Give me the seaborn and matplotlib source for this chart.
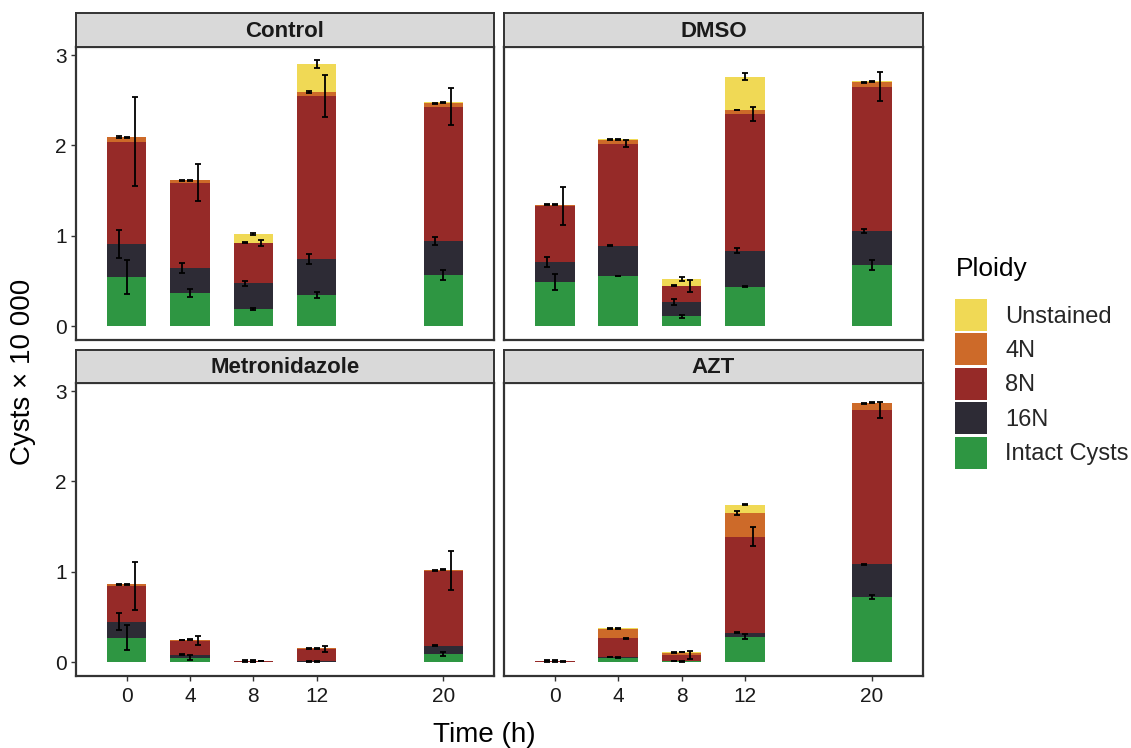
import numpy as np
import pandas as pd
import seaborn as sns
import matplotlib
matplotlib.use("Agg")
import matplotlib.pyplot as plt
from matplotlib.patches import Patch

# ---------------- data ----------------
times = [0, 4, 8, 12, 20]
treatments = ["Control", "DMSO", "Metronidazole", "AZT"]
layers = ["Intact Cysts", "16N", "8N", "4N", "Unstained"]  # stacking order, bottom -> top
legend_order = ["Unstained", "4N", "8N", "16N", "Intact Cysts"]

# segment heights (cysts x 10 000)
control_intact = [0.539, 0.362, 0.188, 0.343, 0.565]
control_16n = [0.369, 0.277, 0.285, 0.396, 0.376]
control_8n = [1.133, 0.948, 0.443, 1.811, 1.488]
control_4n = [0.049, 0.026, 0.007, 0.045, 0.037]
control_unst = [0.002, 0.002, 0.096, 0.306, 0.011]

dmso_intact = [0.484, 0.554, 0.107, 0.435, 0.676]
dmso_16n = [0.228, 0.335, 0.159, 0.396, 0.376]
dmso_8n = [0.620, 1.130, 0.177, 1.517, 1.598]
dmso_4n = [0.011, 0.044, 0.003, 0.044, 0.049]
dmso_unst = [0.002, 0.002, 0.078, 0.369, 0.011]

metro_intact = [0.270, 0.048, 0.002, 0.005, 0.093]
metro_16n = [0.178, 0.033, 0.002, 0.002, 0.085]
metro_8n = [0.396, 0.152, 0.007, 0.134, 0.832]
metro_4n = [0.015, 0.011, 0.002, 0.011, 0.008]
metro_unst = [0.001, 0.001, 0.001, 0.001, 0.002]

azt_intact = [0.003, 0.048, 0.008, 0.282, 0.722]
azt_16n = [0.002, 0.007, 0.003, 0.044, 0.359]
azt_8n = [0.003, 0.208, 0.067, 1.061, 1.705]
azt_4n = [0.006, 0.107, 0.026, 0.260, 0.078]
azt_unst = [0.002, 0.004, 0.007, 0.096, 0.007]

# error (half-widths)
control_intact_err = [0.19, 0.045, 0.015, 0.035, 0.06]
control_16n_err = [0.155, 0.055, 0.025, 0.055, 0.048]
control_8n_err = [0.49, 0.205, 0.035, 0.232, 0.205]
control_4n_err = [0.01, 0.005, 0.005, 0.01, 0.005]
control_unst_err = [0.005, 0.005, 0.015, 0.042, 0.005]

dmso_intact_err = [0.09, 0.005, 0.02, 0.005, 0.055]
dmso_16n_err = [0.055, 0.005, 0.037, 0.028, 0.024]
dmso_8n_err = [0.21, 0.037, 0.065, 0.075, 0.157]
dmso_4n_err = [0.005, 0.005, 0.005, 0.005, 0.005]
dmso_unst_err = [0.005, 0.005, 0.022, 0.039, 0.005]

metro_intact_err = [0.137, 0.025, 0.003, 0.005, 0.022]
metro_16n_err = [0.097, 0.005, 0.003, 0.005, 0.005]
metro_8n_err = [0.265, 0.05, 0.005, 0.035, 0.215]
metro_4n_err = [0.005, 0.005, 0.005, 0.005, 0.005]
metro_unst_err = [0.005, 0.005, 0.005, 0.005, 0.005]

azt_intact_err = [0.003, 0.005, 0.005, 0.028, 0.024]
azt_16n_err = [0.003, 0.005, 0.005, 0.005, 0.005]
azt_8n_err = [0.003, 0.005, 0.04, 0.107, 0.089]
azt_4n_err = [0.005, 0.01, 0.005, 0.022, 0.005]
azt_unst_err = [0.003, 0.005, 0.005, 0.005, 0.005]

values = {
    "Control": [control_intact, control_16n, control_8n, control_4n, control_unst],
    "DMSO": [dmso_intact, dmso_16n, dmso_8n, dmso_4n, dmso_unst],
    "Metronidazole": [metro_intact, metro_16n, metro_8n, metro_4n, metro_unst],
    "AZT": [azt_intact, azt_16n, azt_8n, azt_4n, azt_unst],
}
errors = {
    "Control": [control_intact_err, control_16n_err, control_8n_err, control_4n_err, control_unst_err],
    "DMSO": [dmso_intact_err, dmso_16n_err, dmso_8n_err, dmso_4n_err, dmso_unst_err],
    "Metronidazole": [metro_intact_err, metro_16n_err, metro_8n_err, metro_4n_err, metro_unst_err],
    "AZT": [azt_intact_err, azt_16n_err, azt_8n_err, azt_4n_err, azt_unst_err],
}

colors = {
    "Unstained": "#F0D955",
    "4N": "#CD6A29",
    "8N": "#962A28",
    "16N": "#2D2B35",
    "Intact Cysts": "#2E9642",
}
err_offset = {"Intact Cysts": 0.0, "16N": -0.5, "8N": 0.5, "4N": -0.5, "Unstained": 0.0}

rows = []
for tr in treatments:
    cum = np.zeros(len(times))
    for li, lay in enumerate(layers):
        seg = np.array(values[tr][li])
        cum = cum + seg
        for ti, t in enumerate(times):
            rows.append(dict(treatment=tr, time=t, layer=lay, value=seg[ti],
                             cum=cum[ti], err=errors[tr][li][ti]))
df = pd.DataFrame(rows)

# ---------------- figure ----------------
sns.set_theme(style="white")
plt.rcParams["font.family"] = ["Liberation Sans", "DejaVu Sans"]

W, H = 1131, 748
fig = plt.figure(figsize=(W / 100, H / 100), dpi=100)

def fx(px):
    return px / W

def fy(py):
    return 1 - py / H

panel_x = [(76, 494), (504, 922.7)]
panel_y = [(47, 340), (383, 676)]
strip_y = [(13, 47), (350, 383)]
edge = "#333333"

for idx, tr in enumerate(treatments):
    r, c = divmod(idx, 2)
    x0, x1 = panel_x[c]
    y0, y1 = panel_y[r]
    ax = fig.add_axes([fx(x0), fy(y1), fx(x1 - x0), (y1 - y0) / H])
    sy0, sy1 = strip_y[r]
    sax = fig.add_axes([fx(x0), fy(sy1), fx(x1 - x0), (sy1 - sy0) / H])

    sub = df[df.treatment == tr]
    # draw cumulative bars, tallest (top layer) first
    for lay in reversed(layers):
        d = sub[sub.layer == lay]
        sns.barplot(data=d, x="time", y="cum", native_scale=True, color=colors[lay],
                    saturation=1, width=0.625, errorbar=None, linewidth=0, ax=ax)
    for lay in layers:
        d = sub[sub.layer == lay]
        ax.errorbar(d["time"] + err_offset[lay], d["cum"], yerr=d["err"], fmt="none",
                    ecolor="black", elinewidth=1.3, capsize=2.0, capthick=1.3, zorder=5)

    ax.set_xlim(-3.2, 23.2)
    ax.set_ylim(-0.155, 3.089)
    ax.set_xticks(times)
    ax.set_yticks([0, 1, 2, 3])
    ax.set_xlabel("")
    ax.set_ylabel("")
    ax.set_facecolor("white")
    for s in ax.spines.values():
        s.set_color(edge)
        s.set_linewidth(1.6)
    ax.tick_params(axis="both", length=3.5, width=1.0, color=edge, labelsize=15,
                   labelcolor="#1a1a1a", pad=3, left=True, bottom=True)
    ax.tick_params(axis="x", pad=4.5)
    if c == 1:
        ax.tick_params(axis="y", left=False, labelleft=False)
    if r == 0:
        ax.tick_params(axis="x", bottom=False, labelbottom=False)

    sax.set_facecolor("#D9D9D9")
    sax.set_xticks([])
    sax.set_yticks([])
    for s in sax.spines.values():
        s.set_color(edge)
        s.set_linewidth(1.4)
    sax.text(0.5, 0.47, tr, ha="center", va="center", fontsize=16, fontweight="bold",
             color="#1a1a1a", transform=sax.transAxes)

fig.text(fx(23), fy(372), "Cysts × 10 000", rotation=90, ha="center", va="center",
         fontsize=20, color="black")
fig.text(fx(484), fy(735), "Time (h)", ha="center", va="center", fontsize=20, color="black")

# legend
fig.text(fx(956), fy(269), "Ploidy", ha="left", va="center", fontsize=19, color="black")
handles = [Patch(facecolor=colors[k], edgecolor="none", label=k) for k in legend_order]
leg = fig.legend(handles=handles, loc="upper left",
                 bbox_to_anchor=(fx(955), fy(299)), frameon=False, fontsize=17,
                 handlelength=1.36, handleheight=1.71,
                 labelspacing=0.1, handletextpad=0.76,
                 borderaxespad=0, borderpad=0)

fig.savefig("out.png", dpi=100)
